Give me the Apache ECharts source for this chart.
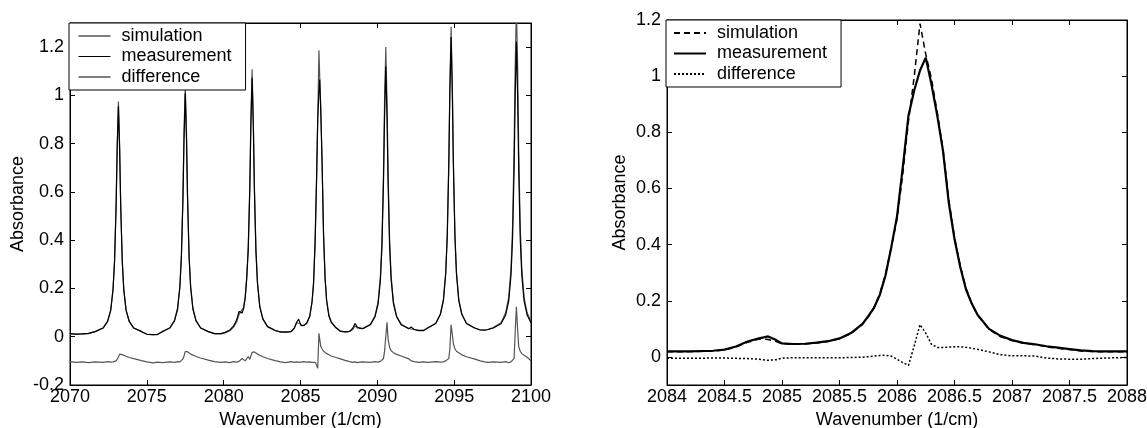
<!DOCTYPE html>
<html>
<head>
<meta charset="utf-8">
<script src="https://cdn.jsdelivr.net/npm/echarts@6/dist/echarts.min.js"></script>
<style>
html,body{margin:0;padding:0;background:#fff;}
#c{width:1147px;height:428px;}
</style>
</head>
<body>
<div id="c"></div>
<script>
// ---------- data: left panel (full spectrum) ----------
const lx = [2070.0,2070.4,2070.8,2071.2,
 2071.65,2072.15,2072.45,2072.65,2072.8,2072.9,2073.0,2073.07,2073.15,2073.23,2073.3,2073.4,2073.5,2073.65,2073.85,2074.15,2074.65,
 2075.0,2075.4,2075.7,
 2076.0,2076.5,2076.8,2077.0,2077.15,2077.25,2077.35,2077.42,2077.5,2077.58,2077.65,2077.75,2077.85,2078.0,2078.2,2078.5,2079.0,
 2079.4,2079.8,2080.1,2080.4,2080.65,2080.85,2081.0,2081.1,2081.2,2081.3,2081.4,
 2081.5,2081.6,2081.7,2081.77,2081.85,2081.93,2082.0,2082.1,2082.2,2082.35,2082.55,2082.85,2083.35,
 2083.7,2084.0,2084.2,2084.4,2084.6,2084.75,2084.88,2084.95,2085.05,2085.2,2085.4,2085.6,2085.75,
 2085.85,2085.95,2086.05,2086.12,2086.2,2086.25,2086.32,2086.4,2086.5,2086.6,2086.7,2086.85,2087.0,2087.3,2087.6,2087.9,
 2088.2,2088.4,2088.55,2088.7,2088.85,
 2089.05,2089.55,2089.85,2090.05,2090.2,2090.3,2090.4,2090.47,2090.55,2090.63,2090.7,2090.8,2090.9,2091.05,2091.25,2091.55,2092.05,
 2092.2,2092.4,2092.7,2093.0,
 2093.3,2093.8,2094.1,2094.3,2094.45,2094.55,2094.65,2094.72,2094.8,2094.88,2094.95,2095.05,2095.15,2095.3,2095.5,2095.8,2096.3,
 2096.7,2097.0,2097.2,
 2097.55,2098.05,2098.35,2098.55,2098.7,2098.8,2098.9,2098.97,2099.05,2099.13,2099.2,2099.3,2099.4,2099.55,2099.75,2100.0];

const lMeas = [0.013,0.011,0.012,0.014,
 0.021,0.036,0.064,0.109,0.194,0.312,0.539,0.775,0.955,0.775,0.539,0.312,0.194,0.109,0.064,0.036,0.021,
 0.010,0.009,0.010,
 0.021,0.036,0.066,0.114,0.204,0.329,0.569,0.819,1.009,0.819,0.569,0.329,0.204,0.114,0.066,0.036,0.021,
 0.013,0.013,0.018,0.028,0.045,0.070,0.105,0.112,0.098,0.118,0.160,
 0.240,0.362,0.607,0.872,1.073,0.872,0.607,0.352,0.220,0.124,0.073,0.042,0.026,
 0.020,0.020,0.020,0.022,0.037,0.060,0.073,0.060,0.047,0.047,0.056,0.085,0.145,
 0.220,0.390,0.675,0.900,1.020,1.066,0.930,0.734,0.420,0.240,0.150,0.085,0.060,0.038,0.023,0.020,
 0.022,0.035,0.055,0.040,0.035,
 0.033,0.050,0.083,0.136,0.235,0.372,0.636,0.911,1.120,0.911,0.636,0.372,0.235,0.136,0.083,0.050,0.033,
 0.040,0.030,0.025,0.025,
 0.037,0.055,0.092,0.150,0.260,0.412,0.705,1.010,1.242,1.010,0.705,0.412,0.260,0.150,0.092,0.055,0.037,
 0.028,0.027,0.030,
 0.036,0.054,0.090,0.148,0.256,0.406,0.694,0.994,1.222,0.994,0.694,0.406,0.256,0.148,0.090,0.058];

const lSim = [0.012,0.011,0.012,0.013,
 0.022,0.036,0.065,0.111,0.198,0.319,0.550,0.792,0.975,0.792,0.550,0.319,0.198,0.111,0.065,0.036,0.022,
 0.011,0.009,0.009,
 0.021,0.037,0.068,0.118,0.211,0.340,0.589,0.847,1.044,0.847,0.589,0.340,0.211,0.118,0.068,0.037,0.021,
 0.013,0.012,0.016,0.025,0.040,0.062,0.092,0.102,0.106,0.122,0.165,
 0.246,0.373,0.626,0.900,1.108,0.900,0.626,0.363,0.227,0.128,0.075,0.043,0.026,
 0.019,0.018,0.019,0.021,0.035,0.058,0.062,0.055,0.046,0.046,0.055,0.083,0.142,
 0.225,0.390,0.650,0.900,1.187,1.078,0.950,0.740,0.425,0.245,0.150,0.090,0.062,0.037,0.022,0.020,
 0.022,0.030,0.045,0.036,0.038,
 0.034,0.052,0.087,0.144,0.250,0.398,0.681,0.976,1.200,0.976,0.681,0.398,0.250,0.144,0.087,0.052,0.034,
 0.032,0.030,0.026,0.027,
 0.037,0.056,0.094,0.155,0.268,0.426,0.729,1.044,1.284,1.044,0.729,0.426,0.268,0.155,0.094,0.056,0.037,
 0.028,0.028,0.030,
 0.038,0.058,0.099,0.164,0.285,0.454,0.778,1.116,1.372,1.116,0.778,0.454,0.285,0.164,0.099,0.062];

const lDiff = [-0.103,-0.106,-0.104,-0.107,
 -0.104,-0.106,-0.103,-0.105,-0.104,-0.106,-0.100,-0.095,-0.085,-0.072,-0.069,-0.074,-0.077,-0.081,-0.086,-0.091,-0.099,
 -0.104,-0.108,-0.105,
 -0.107,-0.104,-0.106,-0.103,-0.104,-0.100,-0.092,-0.080,-0.062,-0.055,-0.062,-0.068,-0.072,-0.076,-0.082,-0.088,-0.097,
 -0.103,-0.106,-0.104,-0.107,-0.103,-0.105,-0.102,-0.097,-0.090,-0.095,-0.100,
 -0.098,-0.082,-0.094,-0.080,-0.065,-0.058,-0.063,-0.068,-0.072,-0.077,-0.083,-0.090,-0.099,
 -0.104,-0.107,-0.105,-0.103,-0.106,-0.104,-0.108,-0.106,-0.104,-0.103,-0.105,-0.104,-0.106,
 -0.104,-0.106,-0.118,-0.131,0.014,-0.010,-0.040,-0.050,-0.060,-0.065,-0.070,-0.075,-0.080,-0.086,-0.092,-0.098,
 -0.103,-0.106,-0.104,-0.107,-0.105,
 -0.104,-0.106,-0.103,-0.105,-0.102,-0.100,-0.090,-0.060,0.000,0.060,-0.010,-0.045,-0.058,-0.066,-0.073,-0.080,-0.092,
 -0.100,-0.103,-0.106,-0.104,
 -0.106,-0.103,-0.105,-0.104,-0.100,-0.097,-0.090,-0.050,0.050,0.010,-0.030,-0.050,-0.060,-0.066,-0.075,-0.083,-0.092,
 -0.100,-0.104,-0.106,
 -0.104,-0.106,-0.103,-0.108,-0.104,-0.100,-0.090,0.020,0.124,0.030,-0.040,-0.060,-0.070,-0.077,-0.085,-0.100];

// ---------- data: right panel (zoom on one line) ----------
const rx = [2084.0,2084.2,2084.4,2084.5,2084.6,2084.7,2084.8,2084.88,2084.95,2085.0,2085.1,2085.2,2085.3,2085.4,2085.5,2085.6,2085.7,2085.75,2085.8,2085.85,
 2085.9,2085.95,2086.0,2086.05,2086.1,2086.15,2086.2,2086.25,2086.3,2086.35,2086.4,2086.45,2086.5,2086.55,2086.6,2086.65,2086.7,2086.8,2086.9,2087.0,
 2087.1,2087.2,2087.3,2087.4,2087.5,2087.6,2087.7,2087.8,2087.9,2088.0];
const rMeas = [0.020,0.020,0.022,0.026,0.037,0.055,0.066,0.073,0.060,0.048,0.046,0.047,0.051,0.056,0.066,0.085,0.118,0.145,0.175,0.220,
 0.290,0.390,0.500,0.675,0.860,0.950,1.020,1.066,0.970,0.860,0.734,0.550,0.420,0.320,0.240,0.190,0.150,0.100,0.075,0.060,
 0.050,0.045,0.038,0.033,0.028,0.023,0.021,0.020,0.020,0.020];
const rSim = [0.018,0.019,0.021,0.025,0.035,0.052,0.064,0.062,0.055,0.047,0.045,0.046,0.050,0.055,0.065,0.083,0.116,0.142,0.176,0.225,
 0.295,0.390,0.490,0.650,0.840,1.000,1.187,1.078,0.990,0.870,0.740,0.560,0.425,0.325,0.245,0.190,0.150,0.098,0.072,0.058,
 0.049,0.044,0.036,0.031,0.026,0.021,0.019,0.018,0.018,0.018];
const rDiff = [-0.005,-0.005,-0.004,-0.004,-0.005,-0.006,-0.008,-0.012,-0.010,-0.004,-0.003,-0.003,-0.003,-0.003,-0.003,-0.002,-0.001,0.001,0.003,0.005,
 0.006,0.003,-0.008,-0.020,-0.030,0.040,0.115,0.085,0.045,0.034,0.034,0.035,0.036,0.036,0.034,0.031,0.027,0.018,0.008,0.004,
 0.004,0.003,-0.004,-0.007,-0.008,-0.008,-0.006,-0.004,-0.003,-0.002];

// ---------- tick labels ----------
const lYTicks = [-0.2, 0, 0.2, 0.4, 0.6, 0.8, 1, 1.2];
const rYTicks = [0, 0.2, 0.4, 0.6, 0.8, 1, 1.2];
const seriesNames = ['simulation', 'measurement', 'difference'];
const xName = 'Wavenumber (1/cm)';
const yName = 'Absorbance';

const FONT = "'Liberation Sans', Arial, Helvetica, sans-serif";
const FS = 18;
const zip = (xs, ys) => xs.map((x, i) => [x, ys[i]]);
const fmt = v => String(v);

function xAx(grid, min, max, interval, pos) {
  const bottom = pos === 'bottom';
  return {
    type: 'value', gridIndex: grid, position: pos, min: min, max: max, interval: interval,
    name: bottom ? xName : '', nameLocation: 'middle', nameGap: 25,
    nameTextStyle: {color: '#000', fontFamily: FONT, fontSize: FS},
    axisLine: {show: true, onZero: false, lineStyle: {color: '#000', width: 1}},
    axisTick: {show: true, inside: true, length: 5, lineStyle: {color: '#000'}},
    axisLabel: {show: bottom, formatter: fmt, color: '#000', fontFamily: FONT, fontSize: FS, margin: 3},
    splitLine: {show: false}
  };
}
function yAx(grid, min, max, ticks, pos, gap) {
  const left = pos === 'left';
  return {
    type: 'value', gridIndex: grid, position: pos, min: min, max: max,
    name: left ? yName : '', nameLocation: 'middle', nameGap: gap, nameRotate: 90,
    nameTextStyle: {color: '#000', fontFamily: FONT, fontSize: FS},
    axisLine: {show: true, onZero: false, lineStyle: {color: '#000', width: 1}},
    axisTick: {show: true, inside: true, length: 5, customValues: ticks, lineStyle: {color: '#000'}},
    axisLabel: {show: left, customValues: ticks, formatter: fmt, color: '#000', fontFamily: FONT, fontSize: FS, margin: 6},
    splitLine: {show: false}
  };
}
function legendFor(left, top, names, padLeft, padRight, lineStyle) {
  return {
    orient: 'vertical', left: left, top: top,
    data: names,
    formatter: n => n.trim(),
    backgroundColor: '#fff', borderColor: '#000', borderWidth: 1, borderRadius: 0,
    padding: [4, padRight, 4, padLeft],
    itemWidth: 32, itemHeight: 14, itemGap: 2.5,
    itemStyle: {opacity: 0},
    lineStyle: lineStyle,
    selectedMode: false,
    textStyle: {color: '#000', fontFamily: FONT, fontSize: FS, padding: [0, 0, 0, 6]}
  };
}

const chart = echarts.init(document.getElementById('c'), null, {renderer: 'canvas'});
const rNames = seriesNames.map(n => n + ' ');
chart.setOption({
  animation: false,
  backgroundColor: '#fff',
  grid: [
    {left: 70, top: 23, width: 461, height: 362, outerBoundsMode: 'none', containLabel: false,
     show: true, borderColor: '#000', borderWidth: 1, backgroundColor: '#fff'},
    {left: 667, top: 20, width: 460, height: 365, outerBoundsMode: 'none', containLabel: false,
     show: true, borderColor: '#000', borderWidth: 1, backgroundColor: '#fff'}
  ],
  xAxis: [
    xAx(0, 2070, 2100, 5, 'bottom'), xAx(0, 2070, 2100, 5, 'top'),
    xAx(1, 2084, 2088, 0.5, 'bottom'), xAx(1, 2084, 2088, 0.5, 'top')
  ],
  yAxis: [
    yAx(0, -0.2, 1.3, lYTicks, 'left', 43), yAx(0, -0.2, 1.3, lYTicks, 'right', 43),
    yAx(1, -0.1, 1.2, rYTicks, 'left', 38), yAx(1, -0.1, 1.2, rYTicks, 'right', 38)
  ],
  legend: [
    legendFor(69, 23, seriesNames, 9, 14, {color: '#000', width: 1}),
    legendFor(666, 20, rNames, 7, 14, {color: '#000'})
  ],
  series: [
    {name: seriesNames[0], type: 'line', xAxisIndex: 0, yAxisIndex: 0, data: zip(lx, lSim), showSymbol: false, symbol: 'none',
     lineStyle: {color: '#555', width: 1.2}, itemStyle: {color: '#000'}, clip: true},
    {name: seriesNames[1], type: 'line', xAxisIndex: 0, yAxisIndex: 0, data: zip(lx, lMeas), showSymbol: false, symbol: 'none',
     lineStyle: {color: '#000', width: 1.2}, itemStyle: {color: '#000'}, clip: true},
    {name: seriesNames[2], type: 'line', xAxisIndex: 0, yAxisIndex: 0, data: zip(lx, lDiff), showSymbol: false, symbol: 'none',
     lineStyle: {color: '#555', width: 1.2}, itemStyle: {color: '#000'}, clip: true},
    {name: rNames[0], type: 'line', xAxisIndex: 2, yAxisIndex: 2, data: zip(rx, rSim), showSymbol: false, symbol: 'none',
     lineStyle: {color: '#000', width: 1.5, type: [6, 4]}, itemStyle: {color: '#000'}, clip: true},
    {name: rNames[1], type: 'line', xAxisIndex: 2, yAxisIndex: 2, data: zip(rx, rMeas), showSymbol: false, symbol: 'none',
     lineStyle: {color: '#000', width: 2.2}, itemStyle: {color: '#000'}, clip: true},
    {name: rNames[2], type: 'line', xAxisIndex: 2, yAxisIndex: 2, data: zip(rx, rDiff), showSymbol: false, symbol: 'none',
     lineStyle: {color: '#000', width: 1.5, type: [2, 2]}, itemStyle: {color: '#000'}, clip: true}
  ]
});
</script>
</body>
</html>
